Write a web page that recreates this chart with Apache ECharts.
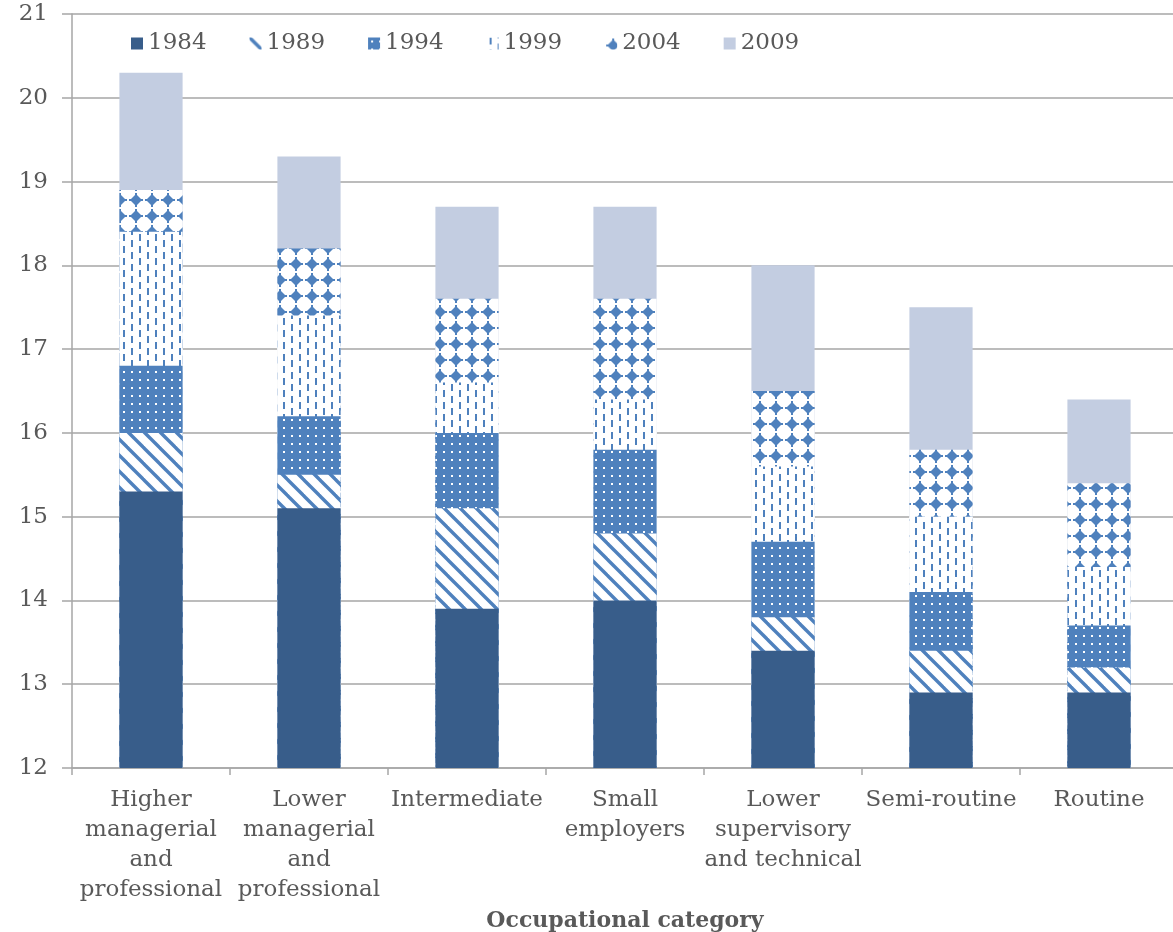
<!DOCTYPE html>
<html>
<head>
<meta charset="utf-8">
<script src="https://cdn.jsdelivr.net/npm/echarts@6/dist/echarts.min.js"></script>
<style>
  html, body { margin: 0; padding: 0; background: #ffffff; }
  #chart { width: 1173px; height: 932px; }
</style>
</head>
<body>
<div id="chart"></div>
<script>
// Occupational categories on the x axis
const categories = [
  'Higher\nmanagerial\nand\nprofessional',
  'Lower\nmanagerial\nand\nprofessional',
  'Intermediate',
  'Small\nemployers',
  'Lower\nsupervisory\nand technical',
  'Semi-routine',
  'Routine'
];

// Survey years (legend entries)
const years = ['1984', '1989', '1994', '1999', '2004', '2009'];

// Values per survey year, one per category
const v1984 = [15.3, 15.1, 13.9, 14.0, 13.4, 12.9, 12.9];
const v1989 = [16.0, 15.5, 15.1, 14.8, 13.8, 13.4, 13.2];
const v1994 = [16.8, 16.2, 16.0, 15.8, 14.7, 14.1, 13.7];
const v1999 = [18.4, 17.4, 16.6, 16.4, 15.6, 15.0, 14.4];
const v2004 = [18.9, 18.2, 17.6, 17.6, 16.5, 15.8, 15.4];
const v2009 = [20.3, 19.3, 18.7, 18.7, 18.0, 17.5, 16.4];

// Y axis range
const yMin = 12, yMax = 21, yStep = 1;

const BLUE = '#4F81BD';
const NAVY = '#385D8A';
const PALE = '#C3CDE1';
const TEXT = '#595959';
const GRID = '#A6A6A6';
const FONT = '"DejaVu Serif", Georgia, serif';

function tile(w, h, draw) {
  const c = document.createElement('canvas');
  c.width = w; c.height = h;
  const ctx = c.getContext('2d');
  draw(ctx, w, h);
  return { image: c, repeat: 'repeat' };
}

// Wide downward diagonal stripes
const stripes = tile(16, 16, (ctx, w, h) => {
  ctx.fillStyle = '#fff'; ctx.fillRect(0, 0, w, h);
  ctx.strokeStyle = BLUE; ctx.lineWidth = 3.4;
  [-16, 0, 16].forEach(o => {
    ctx.beginPath(); ctx.moveTo(o - 2, -2); ctx.lineTo(o + 18, 18); ctx.stroke();
  });
});

// Blue fill with small white dots
const dots = tile(8, 8, (ctx, w, h) => {
  ctx.fillStyle = BLUE; ctx.fillRect(0, 0, w, h);
  ctx.fillStyle = '#fff'; ctx.fillRect(3, 3, 2, 2);
});

// Staggered vertical dashes
const dashes = tile(16, 12, (ctx, w, h) => {
  ctx.fillStyle = '#fff'; ctx.fillRect(0, 0, w, h);
  ctx.fillStyle = BLUE;
  ctx.fillRect(3, 0, 2, 7);
  ctx.fillRect(11, 6, 2, 6);
  ctx.fillRect(11, 0, 2, 1);
});

// Solid diamonds on a square grid
const diamonds = tile(16, 16, (ctx, w, h) => {
  ctx.fillStyle = '#fff'; ctx.fillRect(0, 0, w, h);
  ctx.fillStyle = BLUE;
  ctx.beginPath();
  ctx.moveTo(8, 2); ctx.lineTo(14, 8); ctx.lineTo(8, 14); ctx.lineTo(2, 8); ctx.closePath();
  ctx.fill();
  ctx.fillRect(7, 1, 2, 14);
  ctx.fillRect(1, 7, 14, 2);
});

const fills = [NAVY, stripes, dots, dashes, diamonds, PALE];
const values = [v1984, v1989, v1994, v1999, v2004, v2009];

const series = years.map((y, i) => ({
  name: y,
  type: 'bar',
  data: values[i],
  barWidth: '40%',
  barGap: '-100%',
  z: 10 - i,
  itemStyle: { color: fills[i] },
  emphasis: { disabled: true }
}));

const chart = echarts.init(document.getElementById('chart'), null, { renderer: 'canvas' });
chart.setOption({
  animation: false,
  backgroundColor: '#ffffff',
  textStyle: { fontFamily: FONT, color: TEXT },
  grid: { left: 72, right: -5, top: 14, bottom: 164, containLabel: false, outerBoundsMode: 'none' },
  legend: {
    data: years,
    left: 131,
    top: 32,
    padding: 0,
    itemWidth: 12,
    itemHeight: 12,
    itemGap: 43,
    icon: 'rect',
    textStyle: { fontFamily: FONT, fontSize: 23, color: TEXT }
  },
  xAxis: {
    type: 'category',
    data: categories,
    name: 'Occupational category',
    nameLocation: 'middle',
    nameGap: 139,
    nameTextStyle: { fontFamily: FONT, fontSize: 22, fontWeight: 'bold', color: TEXT },
    axisLine: { lineStyle: { color: GRID, width: 1.5 } },
    axisTick: { show: true, length: 7, lineStyle: { color: GRID, width: 1.5 } },
    axisLabel: {
      interval: 0,
      margin: 17,
      fontFamily: FONT,
      fontSize: 23,
      lineHeight: 30,
      color: TEXT,
      align: 'center',
      verticalAlign: 'top'
    }
  },
  yAxis: {
    type: 'value',
    min: yMin,
    max: yMax,
    interval: yStep,
    axisLine: { show: true, lineStyle: { color: GRID, width: 1.5 } },
    axisTick: { show: true, length: 10, lineStyle: { color: GRID, width: 1.5 } },
    axisLabel: { margin: 24, fontFamily: FONT, fontSize: 23, color: TEXT },
    splitLine: { show: true, lineStyle: { color: GRID, width: 1.5 } }
  },
  series: series
});
</script>
</body>
</html>
